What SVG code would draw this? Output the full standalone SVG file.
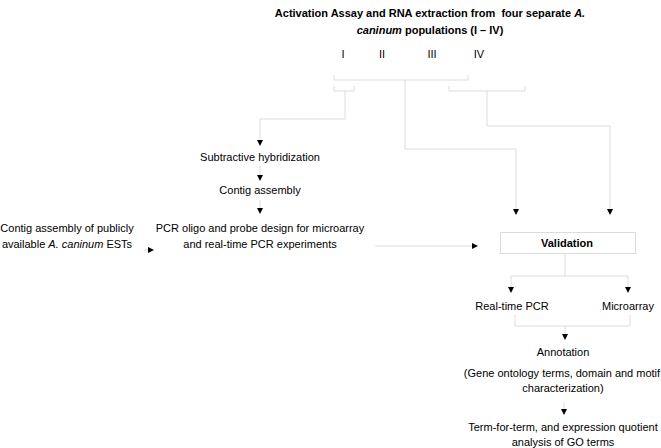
<svg xmlns="http://www.w3.org/2000/svg" width="661" height="448" viewBox="0 0 661 448">
<style>
text{font-family:"Liberation Sans",Arial,sans-serif;font-size:11px;fill:#000}
.b{font-weight:bold}
.c{text-anchor:middle}
.ln{fill:none;stroke:#dcdcdc;stroke-width:1}
.arr{fill:#000}
</style>
<rect width="661" height="448" fill="#fff"/>
<g id="connectors">
<path class="ln" d="M334,75 V80 H468 V75"/>
<path class="ln" d="M334,86 V91 H354 V86"/>
<path class="ln" d="M449,86 V91 H525 V86"/>
<path class="ln" d="M345,91 V119 H260 V140"/>
<path class="ln" d="M405,80 V149 H516 V209"/>
<path class="ln" d="M487,91 V126 H610 V209"/>
<path class="ln" d="M260,166 V175"/>
<path class="ln" d="M260,200 V208"/>
<path class="ln" d="M144,250 H148"/>
<path class="ln" d="M375,246 H472"/>
<path class="ln" d="M565,253 V276 H511 V287 M565,276 H628 V287"/>
<path class="ln" d="M515,315 V326 H630 V315 M565,326 V334"/>
<path class="ln" d="M564,403 V409"/>
<path class="arr" d="M257,140 H263 L260,146 Z"/>
<path class="arr" d="M257,175 H263 L260,181 Z"/>
<path class="arr" d="M257,208 H263 L260,214 Z"/>
<path class="arr" d="M513,209 H519 L516,215 Z"/>
<path class="arr" d="M607,209 H613 L610,215 Z"/>
<path class="arr" d="M148,247 V253 L154,250 Z"/>
<path class="arr" d="M472,243 V249 L478,246 Z"/>
<path class="arr" d="M508,287 H514 L511,293 Z"/>
<path class="arr" d="M625,287 H631 L628,293 Z"/>
<path class="arr" d="M562,334 H568 L565,340 Z"/>
<path class="arr" d="M561,409 H567 L564,415 Z"/>
</g>
<g id="title">
<text class="b c" x="430" y="17">Activation Assay and RNA extraction from&#160; four separate <tspan font-style="italic">A.</tspan></text>
<text class="b c" x="430" y="34"><tspan font-style="italic">caninum</tspan> populations (I – IV)</text>
</g>
<g id="populations">
<text class="c" x="343" y="58">I</text>
<text class="c" x="382" y="58">II</text>
<text class="c" x="432" y="58">III</text>
<text class="c" x="479" y="58">IV</text>
</g>
<g id="subtractive"><text class="c" x="260" y="161">Subtractive hybridization</text></g>
<g id="contig"><text class="c" x="260" y="194">Contig assembly</text></g>
<g id="pcr-design">
<text class="c" x="260" y="232">PCR oligo and probe design for microarray</text>
<text class="c" x="260" y="248">and real-time PCR experiments</text>
</g>
<g id="public-ests">
<text class="c" x="67" y="232">Contig assembly of publicly</text>
<text class="c" x="67" y="248">available <tspan font-style="italic">A. caninum</tspan> ESTs</text>
</g>
<g id="validation">
<rect x="500.5" y="232.5" width="135" height="21" fill="#fff" stroke="#dcdcdc"/>
<text class="b c" x="567" y="247">Validation</text>
</g>
<g id="realtime"><text class="c" x="512" y="310">Real-time PCR</text></g>
<g id="microarray"><text class="c" x="628" y="310">Microarray</text></g>
<g id="annotation">
<text class="c" x="563" y="356">Annotation</text>
<text class="c" x="562" y="377">(Gene ontology terms, domain and motif</text>
<text class="c" x="563" y="392">characterization)</text>
</g>
<g id="term">
<text class="c" x="563" y="431">Term-for-term, and expression quotient</text>
<text class="c" x="563" y="446">analysis of GO terms</text>
</g>
</svg>
